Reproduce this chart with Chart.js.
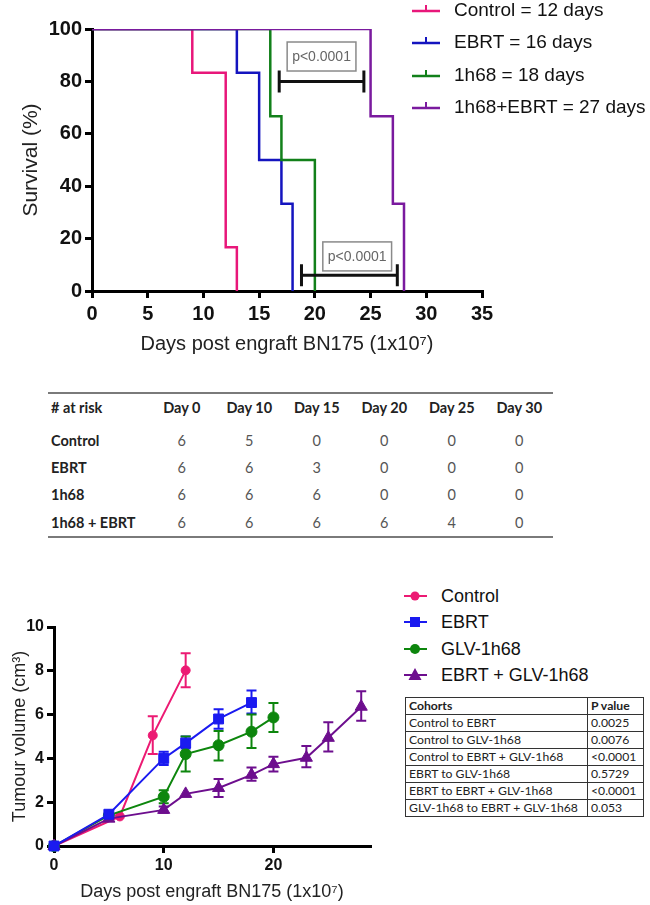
<!DOCTYPE html>
<html><head><meta charset="utf-8">
<script src="https://cdn.jsdelivr.net/npm/chart.js@4.4.1/dist/chart.umd.min.js"></script>
<style>
html,body{margin:0;padding:0;background:#fff;}
#page{position:relative;width:650px;height:905px;overflow:hidden;font-family:"Liberation Sans",Arial,sans-serif;color:#111;}
.box{position:absolute;}
.tleg{position:absolute;left:410px;height:22px;line-height:22px;font-size:19px;white-space:nowrap;color:#111;}
.tleg svg{position:absolute;left:0;top:0;}
.tleg span{position:absolute;left:44px;top:0;}
.bleg{position:absolute;left:403px;height:22px;line-height:22px;font-size:18px;white-space:nowrap;color:#111;}
.bleg svg{position:absolute;left:0;top:0;}
.bleg span{position:absolute;left:38px;top:0;}
#risk{position:absolute;left:48px;top:392px;width:505px;border-collapse:collapse;font-family:Lato,"Open Sans",sans-serif;font-size:14.5px;border-top:2px solid #7a7a7a;border-bottom:2px solid #7a7a7a;table-layout:fixed;}
#risk td,#risk th{padding:0;}
#risk th{font-weight:bold;color:#222;height:26px;}
#risk td{height:27.2px;text-align:center;color:#555;}
#risk td.lab{text-align:left;padding-left:3px;font-weight:bold;color:#222;}
#risk th.lab{text-align:left;padding-left:3px;}
#risk tr.sp td{height:7px;}
#ptab{position:absolute;left:405px;top:697px;width:238px;border-collapse:collapse;font-family:Lato,"Open Sans",sans-serif;font-size:12.2px;table-layout:fixed;}
#ptab td{border:1px solid #333;height:16px;padding:0 0 0 3px;line-height:16px;color:#222;white-space:nowrap;}
#ptab tr.h td{font-weight:bold;}
</style></head><body>
<div id="page">
  <div class="box" style="left:0;top:0;width:650px;height:365px;"><canvas id="survival"></canvas></div>
  <div id="topLegend"></div>
  <table id="risk"></table>
  <div class="box" style="left:0;top:590px;width:400px;height:315px;"><canvas id="tumour"></canvas></div>
  <div id="botLegend"></div>
  <table id="ptab"></table>
</div>
<script>
// ---------- Survival (Kaplan-Meier) data ----------
const survivalLabels = ['Control = 12 days', 'EBRT = 16 days', '1h68 = 18 days', '1h68+EBRT = 27 days'];
const controlDays = [0, 9, 12, 13];
const controlSurv = [100, 83.3, 16.7, 0];
const ebrtDays = [0, 13, 15, 17, 18];
const ebrtSurv = [100, 83.3, 50, 33.3, 0];
const h68Days = [0, 16, 17, 20];
const h68Surv = [100, 66.7, 50, 0];
const comboDays = [0, 25, 27, 28];
const comboSurv = [100, 66.7, 33.3, 0];

// p-value brackets (data units)
const bracketStart = [16.8, 18.8];
const bracketEnd = [24.4, 27.4];
const bracketLevel = [80, 6];
const pLabels = ['p<0.0001', 'p<0.0001'];
const pLabelX = [20.6, 23.8];
const pLabelY = [89.5, 13.2];

// ---------- Number at risk ----------
const riskDays = ['Day 0', 'Day 10', 'Day 15', 'Day 20', 'Day 25', 'Day 30'];
const riskGroups = ['Control', 'EBRT', '1h68', '1h68 + EBRT'];
const riskControl = [6, 5, 0, 0, 0, 0];
const riskEbrt = [6, 6, 3, 0, 0, 0];
const riskH68 = [6, 6, 6, 0, 0, 0];
const riskCombo = [6, 6, 6, 6, 4, 0];

// ---------- Tumour volume ----------
const volumeLabels = ['Control', 'EBRT', 'GLV-1h68', 'EBRT + GLV-1h68'];
const ctrlVolDays = [0, 6, 9, 12];
const ctrlVol = [0, 1.35, 5.05, 8.02];
const ctrlLow = [0, 1.35, 4.2, 7.25];
const ctrlHigh = [0, 1.35, 5.92, 8.8];
const ebrtVolDays = [0, 5, 10, 12, 15, 18];
const ebrtVol = [0, 1.45, 4.0, 4.7, 5.8, 6.55];
const ebrtLow = [0, 1.45, 3.7, 4.45, 5.35, 6.05];
const ebrtHigh = [0, 1.45, 4.3, 5.0, 6.25, 7.1];
const glvVolDays = [0, 5, 10, 12, 15, 18, 20];
const glvVol = [0, 1.4, 2.25, 4.2, 4.6, 5.22, 5.87];
const glvLow = [0, 1.4, 1.95, 3.4, 3.9, 4.48, 5.2];
const glvHigh = [0, 1.4, 2.55, 5.0, 5.25, 6.0, 6.53];
const comboVolDays = [0, 5, 10, 12, 15, 18, 20, 23, 25, 28];
const comboVol = [0, 1.25, 1.65, 2.38, 2.65, 3.25, 3.74, 4.03, 4.94, 6.36];
const comboLow = [0, 1.25, 1.52, 2.38, 2.24, 2.98, 3.4, 3.6, 4.32, 5.72];
const comboHigh = [0, 1.25, 1.8, 2.38, 3.06, 3.58, 4.07, 4.57, 5.65, 7.07];
const volXTicks = [0, 10, 20];

// ---------- P value table ----------
const cohorts = ['Control to EBRT', 'Control to GLV-1h68', 'Control to EBRT + GLV-1h68', 'EBRT to GLV-1h68', 'EBRT to EBRT + GLV-1h68', 'GLV-1h68 to EBRT + GLV-1h68'];
const pValues = ['0.0025', '0.0076', '<0.0001', '0.5729', '<0.0001', '0.053'];

// ---------- styles ----------
const FONT = '"Liberation Sans", Arial, sans-serif';
const topColors = ['#e8177a', '#1414bf', '#12801a', '#7a1a9e'];
const botColors = ['#ec1a73', '#1a1af0', '#0d860d', '#6d0e8e'];

const pts = (xs, ys) => xs.map((x, i) => ({x: x, y: ys[i]}));

const bracketPlugin = {
  id: 'brackets',
  afterDatasetsDraw(chart) {
    const ctx = chart.ctx, xs = chart.scales.x, ys = chart.scales.y;
    ctx.save();
    for (let i = 0; i < bracketStart.length; i++) {
      const x1 = xs.getPixelForValue(bracketStart[i]);
      const x2 = xs.getPixelForValue(bracketEnd[i]);
      const y = ys.getPixelForValue(bracketLevel[i]);
      ctx.strokeStyle = '#111'; ctx.lineWidth = 3; ctx.lineCap = 'butt';
      ctx.beginPath();
      ctx.moveTo(x1, y); ctx.lineTo(x2, y);
      ctx.moveTo(x1, y - 11); ctx.lineTo(x1, y + 11);
      ctx.moveTo(x2, y - 11); ctx.lineTo(x2, y + 11);
      ctx.stroke();
      ctx.font = '14px ' + FONT;
      const w = ctx.measureText(pLabels[i]).width + 10, h = 29;
      const cx = xs.getPixelForValue(pLabelX[i]), cy = ys.getPixelForValue(pLabelY[i]);
      ctx.fillStyle = '#fff';
      ctx.fillRect(cx - w / 2, cy - h / 2, w, h);
      ctx.strokeStyle = '#8a8a8a'; ctx.lineWidth = 1.5;
      ctx.strokeRect(cx - w / 2, cy - h / 2, w, h);
      ctx.fillStyle = '#666'; ctx.textAlign = 'center'; ctx.textBaseline = 'middle';
      ctx.fillText(pLabels[i], cx, cy + 1);
    }
    ctx.restore();
  }
};

const errorBarPlugin = {
  id: 'errbars',
  beforeDatasetsDraw(chart) {
    const ctx = chart.ctx, xs = chart.scales.x, ys = chart.scales.y;
    chart.data.datasets.forEach(ds => {
      if (!ds.errLow) return;
      ctx.save();
      ctx.strokeStyle = ds.borderColor; ctx.lineWidth = 2;
      ds.data.forEach((p, j) => {
        const lo = ds.errLow[j], hi = ds.errHigh[j];
        if (hi - lo < 0.05) return;
        const x = xs.getPixelForValue(p.x);
        const y1 = ys.getPixelForValue(lo), y2 = ys.getPixelForValue(hi);
        ctx.beginPath();
        ctx.moveTo(x, y1); ctx.lineTo(x, y2);
        ctx.moveTo(x - 5, y1); ctx.lineTo(x + 5, y1);
        ctx.moveTo(x - 5, y2); ctx.lineTo(x + 5, y2);
        ctx.stroke();
      });
      ctx.restore();
    });
  }
};

function axisStyle(size) {
  return {
    grid: {drawOnChartArea: false, drawTicks: true, tickLength: 7, color: '#000', lineWidth: 3},
    border: {color: '#000', width: 3},
    ticks: {color: '#111', font: {family: FONT, size: size, weight: 'bold'}, padding: 3, maxRotation: 0, autoSkip: false}
  };
}

// ---------- Survival chart ----------
const survSets = [[controlDays, controlSurv], [ebrtDays, ebrtSurv], [h68Days, h68Surv], [comboDays, comboSurv]];
const sx = axisStyle(20), sy = axisStyle(20);
new Chart(document.getElementById('survival'), {
  type: 'line',
  data: {
    datasets: survSets.map((s, i) => ({
      label: survivalLabels[i],
      data: pts(s[0], s[1]),
      borderColor: topColors[i],
      backgroundColor: topColors[i],
      borderWidth: 2.5,
      stepped: 'before',
      pointRadius: 0,
      fill: false,
      order: 3 - i
    }))
  },
  options: {
    responsive: true, maintainAspectRatio: false, animation: false,
    layout: {padding: {top: 29, right: 168, left: 0, bottom: 0}},
    plugins: {legend: {display: false}, tooltip: {enabled: false}},
    scales: {
      x: Object.assign(sx, {
        type: 'linear', min: 0, max: 35,
        ticks: Object.assign(sx.ticks, {stepSize: 5, padding: 4}),
        title: {display: true, text: 'Days post engraft BN175 (1x10⁷)', color: '#222', font: {family: FONT, size: 20}, padding: {top: 0, bottom: 9}},
        afterFit(s) { s.height = 74; }
      }),
      y: Object.assign(sy, {
        type: 'linear', min: 0, max: 100,
        ticks: Object.assign(sy.ticks, {stepSize: 20}),
        title: {display: true, text: 'Survival (%)', color: '#222', font: {family: FONT, size: 21}, padding: {top: 19, bottom: 0}},
        afterFit(s) { s.width = 92; }
      })
    }
  },
  plugins: [bracketPlugin]
});

// top legend
const topCenters = [10, 42, 75, 107];
document.getElementById('topLegend').innerHTML = survivalLabels.map((l, i) =>
  '<div class="tleg" style="top:' + (topCenters[i] - 11) + 'px"><svg width="32" height="22"><line x1="2" y1="12" x2="30" y2="12" stroke="' + topColors[i] + '" stroke-width="2.5"/><line x1="16" y1="12" x2="16" y2="6" stroke="' + topColors[i] + '" stroke-width="2"/></svg><span>' + l + '</span></div>'
).join('');

// risk table
const riskRows = [riskControl, riskEbrt, riskH68, riskCombo];
let rh = '<colgroup><col style="width:100px">' + riskDays.map(() => '<col style="width:67.5px">').join('') + '</colgroup>';
rh += '<tr><th class="lab"># at risk</th>' + riskDays.map(d => '<th>' + d + '</th>').join('') + '</tr>';
rh += '<tr class="sp"><td colspan="7"></td></tr>';
riskRows.forEach((r, i) => {
  rh += '<tr><td class="lab">' + riskGroups[i] + '</td>' + r.map(v => '<td>' + v + '</td>').join('') + '</tr>';
});
document.getElementById('risk').innerHTML = rh;

// ---------- Tumour volume chart ----------
const volSets = [
  [ctrlVolDays, ctrlVol, ctrlLow, ctrlHigh, 'circle', 4.5],
  [ebrtVolDays, ebrtVol, ebrtLow, ebrtHigh, 'rect', 7],
  [glvVolDays, glvVol, glvLow, glvHigh, 'circle', 5.5],
  [comboVolDays, comboVol, comboLow, comboHigh, 'triangle', 7]
];
const bx = axisStyle(16), by = axisStyle(16);
new Chart(document.getElementById('tumour'), {
  type: 'line',
  data: {
    datasets: volSets.map((s, i) => ({
      label: volumeLabels[i],
      data: pts(s[0], s[1]),
      errLow: s[2], errHigh: s[3],
      borderColor: botColors[i],
      backgroundColor: botColors[i],
      pointBackgroundColor: botColors[i],
      pointBorderColor: botColors[i],
      borderWidth: 2,
      pointStyle: s[4],
      pointRadius: s[5],
      pointBorderWidth: 1,
      fill: false,
      tension: 0,
      clip: false,
      order: i === 1 ? 0 : 3 - i
    }))
  },
  options: {
    responsive: true, maintainAspectRatio: false, animation: false,
    layout: {padding: {top: 37, right: 30, left: 0, bottom: 0}},
    plugins: {legend: {display: false}, tooltip: {enabled: false}},
    scales: {
      x: Object.assign(bx, {
        type: 'linear', min: 0, max: 28.8,
        afterBuildTicks(axis) { axis.ticks = volXTicks.map(v => ({value: v})); },
        title: {display: true, text: 'Days post engraft BN175 (1x10⁷)', color: '#222', font: {family: FONT, size: 18}, padding: {top: 0, bottom: 2}},
        afterFit(s) { s.height = 59; }
      }),
      y: Object.assign(by, {
        type: 'linear', min: 0, max: 10,
        ticks: Object.assign(by.ticks, {stepSize: 2}),
        title: {display: true, text: 'Tumour volume (cm³)', color: '#222', font: {family: FONT, size: 18}, padding: {top: 9, bottom: 0}},
        afterFit(s) { s.width = 54; }
      })
    }
  },
  plugins: [errorBarPlugin]
});

// bottom legend
const botCenters = [596, 622, 649, 675];
const markerSvg = (i) => {
  const c = botColors[i];
  if (i === 1) return '<rect x="7" y="6" width="10" height="10" fill="' + c + '"/>';
  if (i === 3) return '<polygon points="12,4 18.5,16 5.5,16" fill="' + c + '"/>';
  return '<circle cx="12" cy="11" r="' + (i === 0 ? 4.5 : 5) + '" fill="' + c + '"/>';
};
document.getElementById('botLegend').innerHTML = volumeLabels.map((l, i) =>
  '<div class="bleg" style="top:' + (botCenters[i] - 11) + 'px"><svg width="26" height="22"><line x1="1" y1="11" x2="24" y2="11" stroke="' + botColors[i] + '" stroke-width="2"/>' + markerSvg(i) + '</svg><span>' + l + '</span></div>'
).join('');

// P value table
let ph = '<colgroup><col style="width:182px"><col style="width:56px"></colgroup>';
ph += '<tr class="h"><td>Cohorts</td><td>P value</td></tr>';
cohorts.forEach((c, i) => { ph += '<tr><td>' + c + '</td><td>' + pValues[i] + '</td></tr>'; });
document.getElementById('ptab').innerHTML = ph;
</script>
</body></html>
